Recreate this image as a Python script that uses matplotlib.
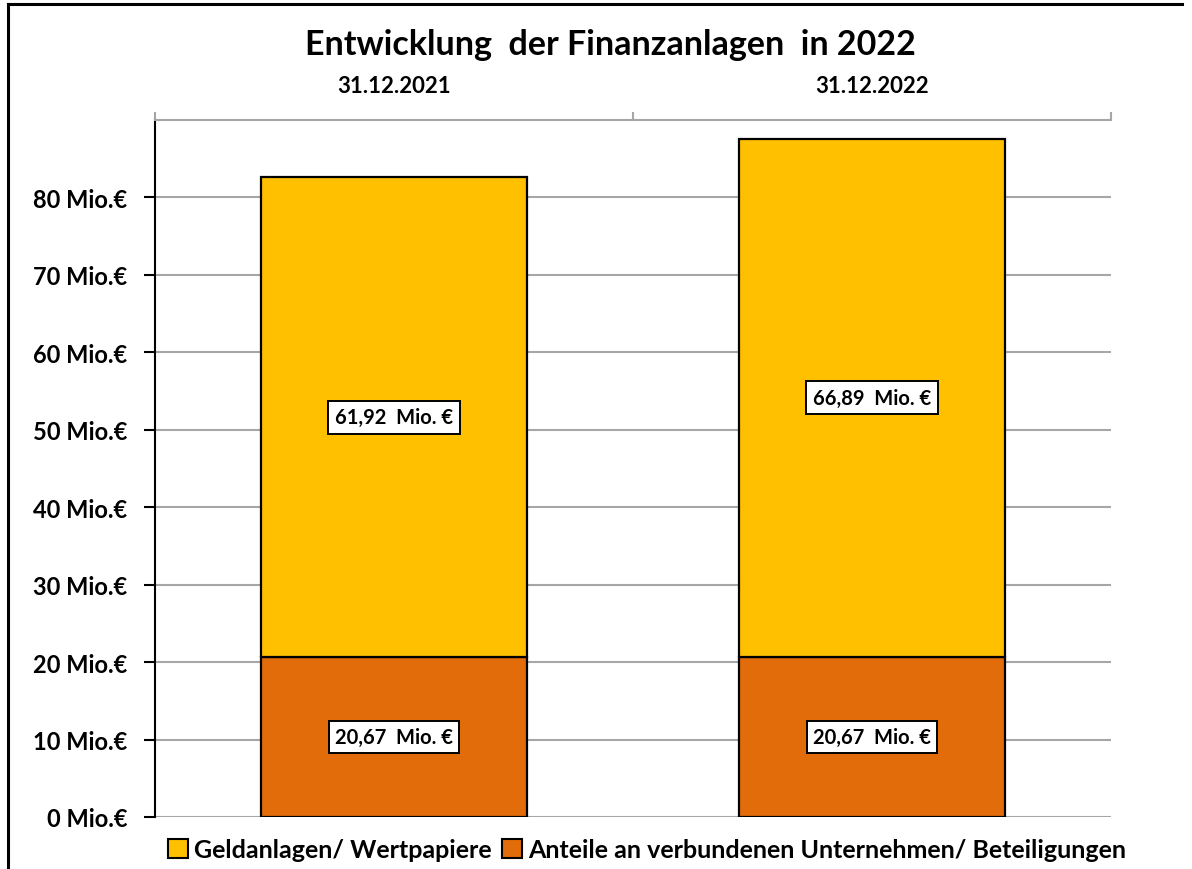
import matplotlib
matplotlib.use("Agg")
import matplotlib.pyplot as plt
from matplotlib.patches import Patch
from matplotlib.lines import Line2D

categories = ["31.12.2021", "31.12.2022"]
anteile = [20.67, 20.67]
geldanlagen = [61.92, 66.89]
series_names = ["Geldanlagen/ Wertpapiere", "Anteile an verbundenen Unternehmen/ Beteiligungen"]
title = "Entwicklung  der Finanzanlagen  in 2022"
yticks = [0, 10, 20, 30, 40, 50, 60, 70, 80]

plt.rcParams['font.family'] = ['Lato', 'DejaVu Sans']
plt.rcParams['font.weight'] = 'bold'

col_gold = "#FFC000"
col_orange = "#E36C0A"
grid_col = "#A6A6A6"

fig = plt.figure(figsize=(11.92, 8.70), dpi=100)
ax = fig.add_axes([155/1192, 1-818/870, (1111-155)/1192, (818-121)/870])

x = list(range(len(categories)))
w = 0.556
ax.bar(x, anteile, width=w, color=col_orange, edgecolor="black", linewidth=1.6, zorder=3)
ax.bar(x, geldanlagen, width=w, bottom=anteile, color=col_gold, edgecolor="black", linewidth=1.6, zorder=3)

def fmt(v):
    return f"{v:.2f}".replace(".", ",") + "  Mio. €"

bbox = dict(boxstyle="square,pad=0.32", fc="white", ec="black", lw=1.4)
for i in x:
    ax.text(i, anteile[i] / 2, fmt(anteile[i]), ha="center", va="center",
            fontsize=14.5, fontweight="bold", bbox=bbox, zorder=5)
    ax.text(i, anteile[i] + geldanlagen[i] / 2, fmt(geldanlagen[i]), ha="center", va="center",
            fontsize=14.5, fontweight="bold", bbox=bbox, zorder=5)

ax.set_xlim(-0.5, len(categories) - 0.5)
ax.set_ylim(0, 90)
ax.set_yticks(yticks)
ax.set_yticklabels([f"{v} Mio.€" for v in yticks], fontsize=17, fontweight="bold")
ax.yaxis.grid(True, color=grid_col, linewidth=1.5, zorder=0)
ax.tick_params(axis="y", direction="out", length=8, width=1.5, color="black", pad=12)

ax.xaxis.set_ticks_position("top")
ax.xaxis.set_label_position("top")
ax.set_xticks(x)
ax.set_xticklabels(categories, fontsize=16, fontweight="bold")
ax.tick_params(axis="x", which="major", length=0, pad=17)
ax.set_xticks([-0.5 + k for k in range(len(categories) + 1)], minor=True)
ax.tick_params(axis="x", which="minor", direction="out", length=6, width=1.5, color=grid_col)

for s in ["right", "bottom"]:
    ax.spines[s].set_visible(False)
ax.spines["top"].set_color(grid_col)
ax.spines["top"].set_linewidth(1.5)
ax.spines["left"].set_color("black")
ax.spines["left"].set_linewidth(1.5)
ax.set_axisbelow(True)

fig.text(610/1192, 1-45/870, title, ha="center", va="center", fontsize=24.5, fontweight="bold")

handles = [Patch(facecolor=col_gold, edgecolor="black", linewidth=1.5),
           Patch(facecolor=col_orange, edgecolor="black", linewidth=1.5)]
leg = fig.legend(handles, series_names, loc="center", bbox_to_anchor=(647/1192, 1-851/870),
                 ncol=2, frameon=False, handlelength=0.8, handleheight=0.8,
                 handletextpad=0.25, columnspacing=0.4, prop={'weight': 'bold', 'size': 18})

# outer frame
fig.add_artist(Line2D([8/1192, 8/1192], [0, 1-5/870], transform=fig.transFigure, color="black", lw=2.2))
fig.add_artist(Line2D([8/1192, 1182/1192], [1-5/870, 1-5/870], transform=fig.transFigure, color="black", lw=2.2))

fig.savefig("out.png", dpi=100)
